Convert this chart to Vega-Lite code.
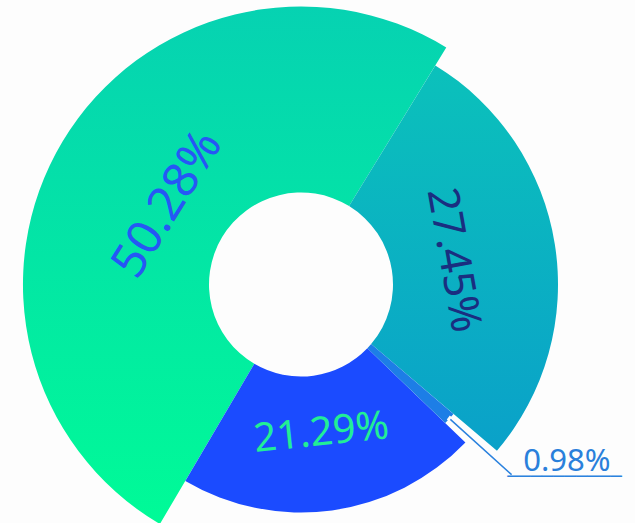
{
  "$schema": "https://vega.github.io/schema/vega-lite/v6.json",
  "width": 602,
  "height": 477,
  "autosize": {"type": "none"},
  "padding": {"left": 0, "top": 46, "right": 33, "bottom": 0},
  "background": "#fdfdfd",
  "config": {"view": {"stroke": null}},
  "data": {
    "values": [
      {"name": "A", "rank": 1, "value": 50.28, "label": "50.28%"},
      {"name": "B", "rank": 2, "value": 27.45, "label": "27.45%"},
      {"name": "C", "rank": 3, "value": 0.98, "label": "0.98%"},
      {"name": "D", "rank": 4, "value": 21.29, "label": "21.29%"}
    ]
  },
  "layer": [
    {
      "transform": [
        {"stack": "value", "groupby": [], "sort": [{"field": "rank"}], "as": ["t0", "t1"]},
        {"filter": "datum.name === 'A'"}
      ],
      "mark": {
        "type": "arc", "innerRadius": 92, "radius": 278,
        "color": {"gradient": "linear", "x1": 0, "y1": 0, "x2": 0, "y2": 1,
          "stops": [{"offset": 0, "color": "#06d2b2"}, {"offset": 1, "color": "#00fb97"}]}
      },
      "encoding": {
        "theta": {"field": "t0", "type": "quantitative", "scale": {"domain": [0, 100], "range": [3.674, 9.957]}},
        "theta2": {"field": "t1"}
      }
    },
    {
      "transform": [
        {"stack": "value", "groupby": [], "sort": [{"field": "rank"}], "as": ["t0", "t1"]},
        {"filter": "datum.name === 'B'"}
      ],
      "mark": {
        "type": "arc", "innerRadius": 92, "radius": 257,
        "color": {"gradient": "linear", "x1": 0, "y1": 0, "x2": 0, "y2": 1,
          "stops": [{"offset": 0, "color": "#0bc1bb"}, {"offset": 1, "color": "#0aa1c9"}]}
      },
      "encoding": {
        "theta": {"field": "t0", "type": "quantitative", "scale": {"domain": [0, 100], "range": [3.674, 9.957]}},
        "theta2": {"field": "t1"}
      }
    },
    {
      "transform": [
        {"stack": "value", "groupby": [], "sort": [{"field": "rank"}], "as": ["t0", "t1"]},
        {"filter": "datum.name === 'D'"}
      ],
      "mark": {"type": "arc", "innerRadius": 92, "radius": 228, "color": "#1b4bff"},
      "encoding": {
        "theta": {"field": "t0", "type": "quantitative", "scale": {"domain": [0, 100], "range": [3.674, 9.957]}},
        "theta2": {"field": "t1"}
      }
    },
    {
      "transform": [
        {"stack": "value", "groupby": [], "sort": [{"field": "rank"}], "as": ["t0", "t1"]},
        {"filter": "datum.name === 'C'"}
      ],
      "mark": {"type": "arc", "innerRadius": 92, "radius": 200, "color": "#1d7ee6"},
      "encoding": {
        "theta": {"field": "t0", "type": "quantitative", "scale": {"domain": [0, 100], "range": [3.674, 9.957]}},
        "theta2": {"field": "t1"}
      }
    },
    {
      "transform": [
        {"stack": "value", "groupby": [], "sort": [{"field": "rank"}], "as": ["t0", "t1"]},
        {"filter": "datum.name === 'C'"}
      ],
      "mark": {"type": "arc", "innerRadius": 201, "radius": 283, "filled": false, "stroke": "#fdfdfd", "strokeWidth": 5, "thetaOffset": 0.0308, "theta2Offset": -0.0308},
      "encoding": {
        "theta": {"field": "t0", "type": "quantitative", "scale": {"domain": [0, 100], "range": [3.674, 9.957]}},
        "theta2": {"field": "t1"}
      }
    },
    {
      "transform": [
        {"stack": "value", "groupby": [], "sort": [{"field": "rank"}], "as": ["t0", "t1"]},
        {"filter": "datum.name === 'C'"}
      ],
      "mark": {"type": "arc", "innerRadius": 202, "radius": 283, "filled": false, "stroke": "#2b82de", "strokeWidth": 1.5, "thetaOffset": 0.0308, "theta2Offset": -0.0308},
      "encoding": {
        "theta": {"field": "t0", "type": "quantitative", "scale": {"domain": [0, 100], "range": [3.674, 9.957]}},
        "theta2": {"field": "t1"}
      }
    },
    {
      "mark": {"type": "text", "radius": 155, "angle": -58, "fontSize": 48, "font": "Noto Sans", "color": "#2657f5", "align": "center", "baseline": "middle"},
      "encoding": {
        "theta": {"field": "value", "type": "quantitative", "stack": true, "scale": {"domain": [0, 100], "range": [3.674, 9.957]}},
        "order": {"field": "rank", "type": "quantitative"},
        "text": {"condition": {"test": "datum.name === 'A'", "field": "label"}, "value": ""}
      }
    },
    {
      "mark": {"type": "text", "radius": 154, "angle": 80, "fontSize": 43, "font": "Noto Sans", "color": "#1a2e80", "align": "center", "baseline": "middle"},
      "encoding": {
        "theta": {"field": "value", "type": "quantitative", "stack": true, "scale": {"domain": [0, 100], "range": [3.674, 9.957]}},
        "order": {"field": "rank", "type": "quantitative"},
        "text": {"condition": {"test": "datum.name === 'B'", "field": "label"}, "value": ""}
      }
    },
    {
      "mark": {"type": "text", "radius": 150, "angle": -6, "fontSize": 40, "font": "Noto Sans", "color": "#22ee96", "align": "center", "baseline": "middle"},
      "encoding": {
        "theta": {"field": "value", "type": "quantitative", "stack": true, "scale": {"domain": [0, 100], "range": [3.674, 9.957]}},
        "order": {"field": "rank", "type": "quantitative"},
        "text": {"condition": {"test": "datum.name === 'D'", "field": "label"}, "value": ""}
      }
    },
    {
      "mark": {"type": "text", "radius": 282, "fontSize": 31, "font": "Noto Sans", "color": "#2a80db", "align": "left", "baseline": "alphabetic", "dx": 13, "dy": -3},
      "encoding": {
        "theta": {"field": "value", "type": "quantitative", "stack": true, "scale": {"domain": [0, 100], "range": [3.674, 9.957]}},
        "order": {"field": "rank", "type": "quantitative"},
        "text": {"condition": {"test": "datum.name === 'C'", "field": "label"}, "value": ""}
      }
    },
    {
      "mark": {"type": "text", "radius": 282, "fontSize": 19, "font": "DejaVu Sans", "color": "#2b82de", "align": "left", "baseline": "alphabetic", "dx": -3, "dy": 9},
      "encoding": {
        "theta": {"field": "value", "type": "quantitative", "stack": true, "scale": {"domain": [0, 100], "range": [3.674, 9.957]}},
        "order": {"field": "rank", "type": "quantitative"},
        "text": {"condition": {"test": "datum.name === 'C'", "value": "──────────"}, "value": ""}
      }
    }
  ]
}
